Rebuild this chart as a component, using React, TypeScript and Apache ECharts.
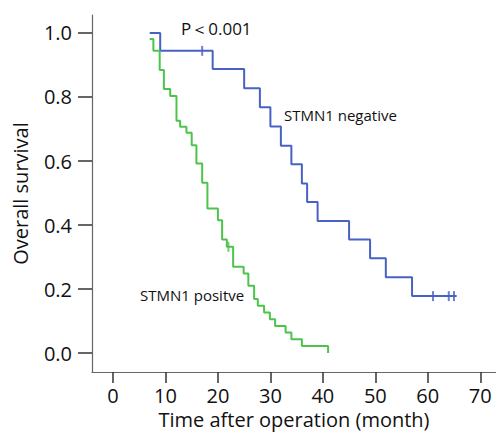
import React, { useEffect, useRef } from "react";
import * as echarts from "echarts";

const negTimes = [7, 9, 19, 25, 28, 30, 32, 34, 36, 37, 39, 45, 49, 52, 57, 65.5];
const negSurv = [1.0, 0.944, 0.887, 0.827, 0.768, 0.708, 0.648, 0.59, 0.53, 0.472, 0.413, 0.355, 0.296, 0.237, 0.178, 0.178];
const negCensor = [17, 61, 64, 65];

const posTimes = [7, 7.7, 8.9, 9.7, 10.9, 12.1, 12.8, 14.0, 15.0, 15.9, 17.0, 18.0, 20.0, 20.8, 21.7, 22.9, 24.9, 25.8, 26.9, 27.6, 28.8, 29.9, 30.9, 32.9, 34.0, 36.0, 41.0];
const posSurv = [0.981, 0.944, 0.884, 0.825, 0.803, 0.726, 0.707, 0.688, 0.649, 0.592, 0.532, 0.452, 0.415, 0.355, 0.332, 0.27, 0.249, 0.21, 0.169, 0.148, 0.127, 0.106, 0.085, 0.064, 0.043, 0.022, 0.0];
const posCensor = [22];

const xTicks = [0, 10, 20, 30, 40, 50, 60, 70];
const yTicks = [0, 0.2, 0.4, 0.6, 0.8, 1.0];

const BLUE = "#4862c4";
const GREEN = "#4cc44c";
const FONT = "'Open Sans', 'Noto Sans', sans-serif";

function survAt(times: number[], surv: number[], t: number) {
  let v = surv[0];
  for (let i = 0; i < times.length; i++) {
    if (times[i] <= t) v = surv[i];
  }
  return v;
}

export default function App() {
  const ref = useRef<HTMLDivElement>(null);
  useEffect(() => {
    if (!ref.current) return;
    const chart = echarts.init(ref.current, null, { renderer: "svg" });
    chart.setOption({
      animation: false,
      backgroundColor: "#ffffff",
      grid: { left: 92, top: 15, width: 404, height: 357, containLabel: false, outerBoundsMode: "none" },
      xAxis: {
        type: "value",
        min: -4,
        max: 73,
        splitLine: { show: false },
        axisLine: { show: true, onZero: false, lineStyle: { color: "#666", width: 1.2 } },
        axisTick: { show: true, customValues: xTicks, length: 11, lineStyle: { color: "#333", width: 1.5 } },
        axisLabel: { customValues: xTicks, margin: 13, fontSize: 20, color: "#111", fontFamily: FONT },
        name: "Time after operation (month)",
        nameLocation: "middle",
        nameGap: 33,
        nameTextStyle: { fontSize: 20, color: "#111", fontFamily: FONT },
      },
      yAxis: {
        type: "value",
        min: -0.059,
        max: 1.056,
        splitLine: { show: false },
        axisLine: { show: true, onZero: false, lineStyle: { color: "#666", width: 1.2 } },
        axisTick: { show: true, customValues: yTicks, length: 14, lineStyle: { color: "#333", width: 1.5 } },
        axisLabel: {
          customValues: yTicks,
          margin: 20,
          fontSize: 20,
          color: "#111",
          fontFamily: FONT,
          formatter: (v: number) => v.toFixed(1),
        },
        name: "Overall survival",
        nameLocation: "middle",
        nameGap: 62,
        nameTextStyle: { fontSize: 20, color: "#111", fontFamily: FONT },
      },
      series: [
        {
          type: "line",
          step: "end",
          showSymbol: false,
          data: negTimes.map((t, i) => [t, negSurv[i]]),
          lineStyle: { color: BLUE, width: 2 },
        },
        {
          type: "line",
          step: "end",
          showSymbol: false,
          data: posTimes.map((t, i) => [t, posSurv[i]]),
          lineStyle: { color: GREEN, width: 2 },
        },
        {
          type: "scatter",
          symbol: "rect",
          symbolSize: [2, 10],
          itemStyle: { color: BLUE },
          data: negCensor.map((t) => [t, survAt(negTimes, negSurv, t)]),
        },
        {
          type: "scatter",
          symbol: "rect",
          symbolSize: [2, 10],
          itemStyle: { color: GREEN },
          data: posCensor.map((t) => [t, survAt(posTimes, posSurv, t)]),
        },
      ],
      graphic: [
        {
          type: "text",
          left: 181,
          top: 20,
          style: { text: "P＜0.001", fontSize: 17, fill: "#111", fontFamily: FONT },
        },
        {
          type: "text",
          left: 284,
          top: 107,
          style: { text: "STMN1 negative", fontSize: 15, fill: "#111", fontFamily: FONT },
        },
        {
          type: "text",
          left: 140,
          top: 287,
          style: { text: "STMN1 positve", fontSize: 15, fill: "#111", fontFamily: FONT },
        },
      ],
    });
    return () => chart.dispose();
  }, []);
  return <div ref={ref} style={{ width: 496, height: 436, position: "absolute", left: 0, top: 0 }} />;
}
